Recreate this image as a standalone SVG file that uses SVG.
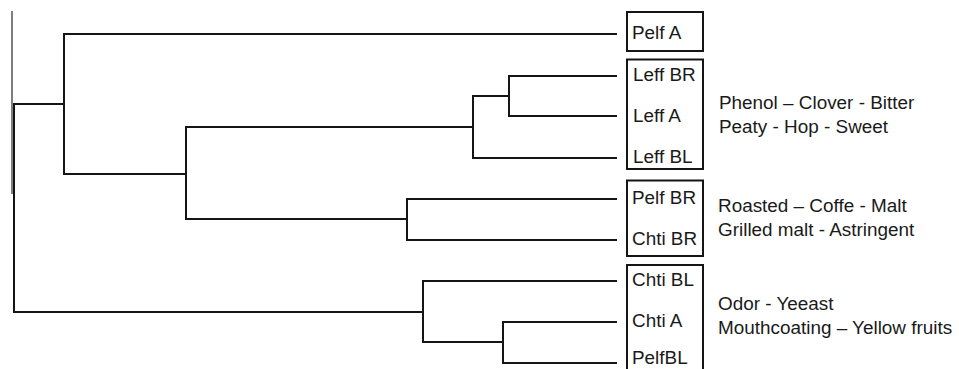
<svg xmlns="http://www.w3.org/2000/svg" width="959" height="369" viewBox="0 0 959 369">
  <style>
    .branch { fill: none; stroke: #151515; stroke-width: 2; stroke-linecap: square; }
    .axis { fill: none; stroke: #555; stroke-width: 1.5; }
    .box { fill: none; stroke: #151515; stroke-width: 2; }
    .lbl { font-family: "Liberation Sans", Arial, sans-serif; font-size: 18.9px; fill: #1a1a1a; }
  </style>
  <rect width="959" height="369" fill="#fff"/>

  <!-- dendrogram connectors -->
  <g id="connectors">
    <line class="axis" x1="12" y1="11" x2="12" y2="194"/>
    <!-- root -->
    <path class="branch" d="M64,104 H14 V312 H423"/>
    <!-- upper cluster -->
    <path class="branch" d="M616,34 H64 V174 H186"/>
    <path class="branch" d="M473,127 H186 V219 H407"/>
    <!-- Leff group -->
    <path class="branch" d="M509,96 H473 V158 H616"/>
    <path class="branch" d="M616,76 H509 V116 H616"/>
    <!-- Pelf BR / Chti BR -->
    <path class="branch" d="M616,199 H407 V240 H616"/>
    <!-- lower cluster -->
    <path class="branch" d="M616,281 H423 V342 H503"/>
    <path class="branch" d="M616,322 H503 V363 H616"/>
  </g>

  <!-- leaf groups -->
  <g id="group-pelf-a">
    <rect class="box" x="627" y="12" width="76" height="39"/>
    <text class="lbl" x="632" y="39">Pelf A</text>
  </g>
  <g id="group-leff">
    <rect class="box" x="627" y="59.5" width="76" height="109.5"/>
    <text class="lbl" x="633" y="81">Leff BR</text>
    <text class="lbl" x="633" y="122">Leff A</text>
    <text class="lbl" x="633" y="163">Leff BL</text>
    <text class="lbl" x="719" y="109">Phenol – Clover - Bitter</text>
    <text class="lbl" x="719" y="133">Peaty - Hop - Sweet</text>
  </g>
  <g id="group-roasted">
    <rect class="box" x="627" y="180.5" width="76" height="75.5"/>
    <text class="lbl" x="632" y="204">Pelf BR</text>
    <text class="lbl" x="632" y="245">Chti BR</text>
    <text class="lbl" x="718" y="212">Roasted – Coffe - Malt</text>
    <text class="lbl" x="718" y="236">Grilled malt - Astringent</text>
  </g>
  <g id="group-yeast">
    <rect class="box" x="627" y="265" width="76" height="110"/>
    <text class="lbl" x="632" y="286">Chti BL</text>
    <text class="lbl" x="632" y="327">Chti A</text>
    <text class="lbl" x="632" y="364">PelfBL</text>
    <text class="lbl" x="718" y="310">Odor - Yeeast</text>
    <text class="lbl" x="718" y="334">Mouthcoating – Yellow fruits</text>
  </g>
</svg>
